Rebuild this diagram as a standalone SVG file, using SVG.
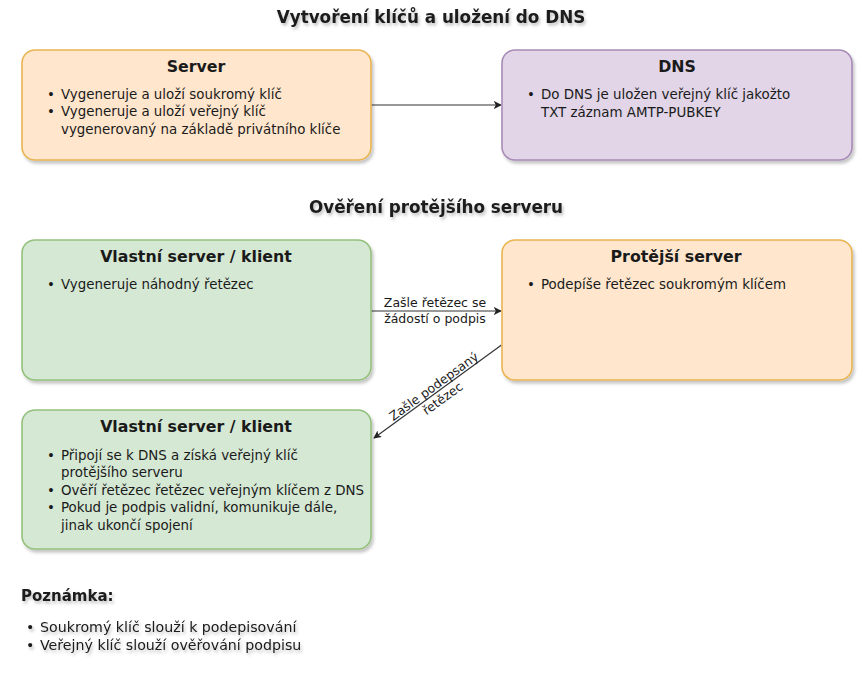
<svg xmlns="http://www.w3.org/2000/svg" width="863" height="681" viewBox="0 0 863 681">
<defs>
<filter id="sh" x="-10%" y="-10%" width="130%" height="140%">
<feDropShadow dx="2" dy="3" stdDeviation="1.5" flood-color="#000" flood-opacity="0.22"/>
</filter>
<filter id="tsh" x="-10%" y="-30%" width="130%" height="180%">
<feDropShadow dx="1.5" dy="2.5" stdDeviation="1.5" flood-color="#000" flood-opacity="0.25"/>
</filter>
<marker id="arr" viewBox="0 0 10 10" refX="9" refY="5" markerWidth="8" markerHeight="8" markerUnits="userSpaceOnUse" orient="auto">
<path d="M0,0 L10,5 L0,10 L2.5,5 Z" fill="#222"/>
</marker>
</defs>
<style>
text{font-family:"DejaVu Sans","Noto Sans",sans-serif;fill:#1a1a1a}
.ttl{font-size:16.8px;font-weight:bold;text-anchor:middle}
.hd{font-size:15.8px;font-weight:bold;text-anchor:middle}
.bd{font-size:13.4px}
.nt{font-size:14.2px}
.lb{font-size:12.5px;text-anchor:middle}
.o{fill:#ffe6cc;stroke:#e9b552;stroke-width:1.6}
.p{fill:#e1d5e7;stroke:#a88bb7;stroke-width:1.6}
.g{fill:#d5e8d4;stroke:#93c17c;stroke-width:1.6}
.c{stroke:#333;stroke-width:1.2;fill:none;marker-end:url(#arr)}
</style>
<rect width="863" height="681" fill="#fff"/>

<text id="title1" class="ttl" x="431" y="23" filter="url(#tsh)">Vytvoření klíčů a uložení do DNS</text>
<text id="title2" class="ttl" x="436" y="213" filter="url(#tsh)">Ověření protějšího serveru</text>

<g id="connectors">
<line class="c" x1="371" y1="105" x2="501" y2="105"/>
<line class="c" x1="371" y1="311" x2="501" y2="311"/>
<text class="lb" x="435" y="307">Zašle řetězec se</text>
<text class="lb" x="435" y="323">žádostí o podpis</text>
<line class="c" x1="501.5" y1="345" x2="374" y2="438"/>
<g transform="translate(437.5,391.5) rotate(-36)">
<text class="lb" x="0" y="-2">Zašle podepsaný</text>
<text class="lb" x="0" y="13">řetězec</text>
</g>
</g>

<g id="server">
<rect class="o" x="22" y="50" width="349" height="110" rx="13" filter="url(#sh)"/>
<text class="hd" x="196" y="72">Server</text>
<text class="bd" x="47" y="99">•</text>
<text class="bd" x="61" y="99">Vygeneruje a uloží soukromý klíč</text>
<text class="bd" x="47" y="116">•</text>
<text class="bd" x="61" y="116">Vygeneruje a uloží veřejný klíč</text>
<text class="bd" x="61" y="134">vygenerovaný na základě privátního klíče</text>
</g>

<g id="dns">
<rect class="p" x="502" y="50" width="350" height="110" rx="13" filter="url(#sh)"/>
<text class="hd" x="677" y="72">DNS</text>
<text class="bd" x="527" y="99">•</text>
<text class="bd" x="541" y="99">Do DNS je uložen veřejný klíč jakožto</text>
<text class="bd" x="541" y="117">TXT záznam AMTP-PUBKEY</text>
</g>

<g id="client1">
<rect class="g" x="22" y="240" width="349" height="140" rx="13" filter="url(#sh)"/>
<text class="hd" x="196" y="262">Vlastní server / klient</text>
<text class="bd" x="47" y="289">•</text>
<text class="bd" x="61" y="289">Vygeneruje náhodný řetězec</text>
</g>

<g id="peer">
<rect class="o" x="502" y="240" width="350" height="140" rx="13" filter="url(#sh)"/>
<text class="hd" x="676" y="262">Protější server</text>
<text class="bd" x="527" y="289">•</text>
<text class="bd" x="541" y="289">Podepíše řetězec soukromým klíčem</text>
</g>

<g id="client2">
<rect class="g" x="22" y="410" width="349" height="139" rx="13" filter="url(#sh)"/>
<text class="hd" x="196" y="432">Vlastní server / klient</text>
<text class="bd" x="47" y="460">•</text>
<text class="bd" x="61" y="460">Připojí se k DNS a získá veřejný klíč</text>
<text class="bd" x="61" y="477">protějšího serveru</text>
<text class="bd" x="47" y="495">•</text>
<text class="bd" x="61" y="495">Ověří řetězec řetězec veřejným klíčem z DNS</text>
<text class="bd" x="47" y="512">•</text>
<text class="bd" x="61" y="512">Pokud je podpis validní, komunikuje dále,</text>
<text class="bd" x="61" y="530">jinak ukončí spojení</text>
</g>

<g id="note" filter="url(#tsh)">
<text x="21" y="601" style="font-size:15px;font-weight:bold">Poznámka:</text>
<text class="nt" x="26" y="632">•</text>
<text class="nt" x="40" y="632">Soukromý klíč slouží k podepisování</text>
<text class="nt" x="26" y="650">•</text>
<text class="nt" x="40" y="650">Veřejný klíč slouží ověřování podpisu</text>
</g>
</svg>
